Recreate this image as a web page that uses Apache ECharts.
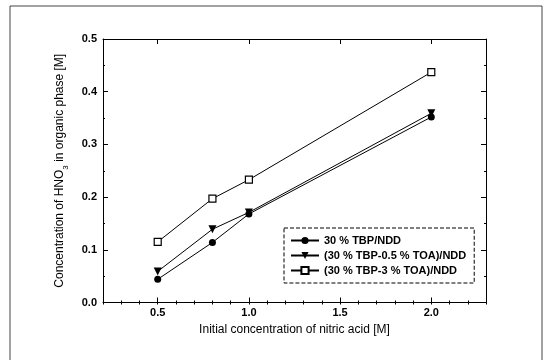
<!DOCTYPE html>
<html>
<head>
<meta charset="utf-8">
<script src="https://cdn.jsdelivr.net/npm/echarts@6/dist/echarts.min.js"></script>
<style>
html,body{margin:0;padding:0;background:#fff;}
#chart{width:545px;height:360px;}
</style>
</head>
<body>
<div id="chart"></div>
<script>
// Data
var xValues = [0.5, 0.8, 1.0, 2.0];
var tbp = [0.044, 0.114, 0.168, 0.352];
var tbpToa05 = [0.059, 0.139, 0.171, 0.359];
var tbpToa3 = [0.115, 0.197, 0.233, 0.437];
var seriesNames = ['30 % TBP/NDD', '(30 % TBP-0.5 % TOA)/NDD', '(30 % TBP-3 % TOA)/NDD'];
var xTicks = [0.5, 1.0, 1.5, 2.0];

function pairs(ys){ return xValues.map(function(x,i){ return [x, ys[i]]; }); }

var chart = echarts.init(document.getElementById('chart'));
var font = 'Liberation Sans, Arial, sans-serif';
var black = '#000';

var xBase = {type:'value', min:0.2, max:2.3, splitLine:{show:false},
  axisLine:{onZero:false, lineStyle:{color:black, width:1}}};

chart.setOption({
  animation:false,
  backgroundColor:'#fff',
  textStyle:{fontFamily:font},
  grid:{left:103, right:59, top:39, bottom:57.5, containLabel:false},
  graphic:[{type:'rect', shape:{x:10, y:6, width:532, height:370}, style:{fill:'none', stroke:'#444', lineWidth:1}, silent:true}],
  legend:{
    orient:'vertical', left:284, top:228,
    data:seriesNames,
    itemWidth:28, itemHeight:9, itemGap:4,
    padding:[7, 8, 7, 6],
    borderColor:'#000', borderWidth:1, borderType:'dashed',
    textStyle:{fontFamily:font, fontSize:11, color:black, fontWeight:'bold'}
  },
  xAxis:[
    Object.assign({}, xBase, {position:'bottom',
      name:'Initial concentration of nitric acid [M]', nameLocation:'middle', nameGap:20,
      nameTextStyle:{fontFamily:font, fontSize:12, color:black},
      axisTick:{inside:true, length:5, customValues:xTicks, lineStyle:{color:black}},
      axisLabel:{customValues:xTicks, formatter:function(v){return v.toFixed(1);}, color:black, fontSize:11, fontWeight:'bold', margin:5, fontFamily:font}}),
    Object.assign({}, xBase, {position:'top',
      axisTick:{inside:true, length:5, customValues:xTicks, lineStyle:{color:black}},
      axisLabel:{show:false}}),
    {type:'value', min:0.2, max:2.3, interval:0.1, position:'bottom', splitLine:{show:false},
      axisLine:{show:false}, axisLabel:{show:false},
      axisTick:{inside:true, length:2, lineStyle:{color:black}}},
    {type:'value', min:0.2, max:2.3, interval:0.1, position:'top', splitLine:{show:false},
      axisLine:{show:false}, axisLabel:{show:false},
      axisTick:{inside:true, length:2, lineStyle:{color:black}}}
  ],
  yAxis:[
    {type:'value', min:0, max:0.5, interval:0.1, position:'left', splitLine:{show:false},
      axisLine:{onZero:false, lineStyle:{color:black}},
      axisTick:{inside:true, length:5, lineStyle:{color:black}},
      minorTick:{show:true, splitNumber:2, length:2, lineStyle:{color:black}},
      axisLabel:{formatter:function(v){return v.toFixed(1);}, color:black, fontSize:11, fontWeight:'bold', margin:6, fontFamily:font},
      name:'Concentration of HNO{sub|3} in organic phase [M]', nameLocation:'middle', nameGap:37,
      nameTextStyle:{fontFamily:font, fontSize:12, color:black,
        rich:{sub:{fontFamily:font, fontSize:8, color:black, verticalAlign:'bottom', padding:[0,0,-4,0]}}}},
    {type:'value', min:0, max:0.5, interval:0.1, position:'right', splitLine:{show:false},
      axisLine:{onZero:false, lineStyle:{color:black}},
      axisTick:{inside:true, length:5, lineStyle:{color:black}},
      minorTick:{show:true, splitNumber:2, length:2, lineStyle:{color:black}},
      axisLabel:{show:false}}
  ],
  series:[
    {name:seriesNames[0], type:'line', data:pairs(tbp), symbol:'circle', symbolSize:7,
      itemStyle:{color:black}, lineStyle:{color:black, width:1}},
    {name:seriesNames[1], type:'line', data:pairs(tbpToa05), symbol:'triangle', symbolRotate:180, symbolSize:8,
      itemStyle:{color:black}, lineStyle:{color:black, width:1}},
    {name:seriesNames[2], type:'line', data:pairs(tbpToa3), symbol:'rect', symbolSize:7,
      itemStyle:{color:'#fff', borderColor:black, borderWidth:1.2}, lineStyle:{color:black, width:1}}
  ]
});
</script>
</body>
</html>
